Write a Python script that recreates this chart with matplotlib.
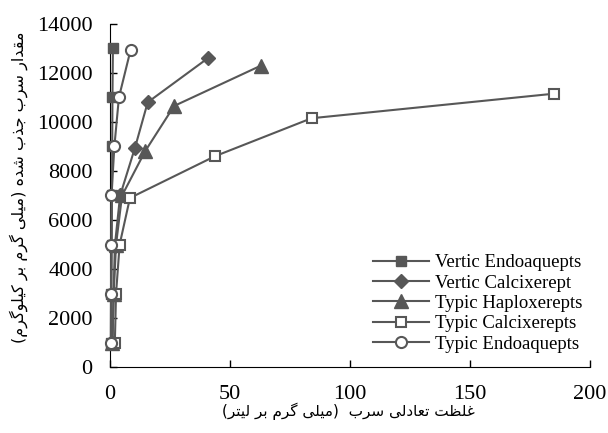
import matplotlib
matplotlib.use('Agg')
import matplotlib.pyplot as plt

# data (x: equilibrium Pb conc, y: adsorbed Pb)
series_names = ['Vertic Endoaquepts', 'Vertic Calcixerept', 'Typic Haploxerepts',
                'Typic Calcixerepts', 'Typic Endoaquepts']

vertic_endo_x = [0.5, 0.6, 0.7, 0.8, 0.9, 1.0, 1.2]
vertic_endo_y = [1000, 3000, 5000, 7000, 9000, 11000, 13000]

vertic_calci_x = [1.0, 1.5, 2.0, 4.2, 10.4, 15.7, 40.8]
vertic_calci_y = [1000, 3000, 4950, 7000, 8950, 10800, 12600]

typic_haplo_x = [1.0, 1.5, 2.5, 5.0, 14.6, 26.7, 63.0]
typic_haplo_y = [1000, 3000, 5000, 7000, 8800, 10650, 12300]

typic_calci_x = [2.0, 2.5, 4.0, 8.3, 43.7, 84.0, 185.0]
typic_calci_y = [1000, 3000, 5000, 6900, 8600, 10150, 11150]

typic_endo_x = [0.3, 0.4, 0.5, 0.6, 1.8, 3.7, 8.6]
typic_endo_y = [1000, 3000, 5000, 7000, 9000, 11000, 12950]

x_ticks = [0, 50, 100, 150, 200]
y_ticks = [0, 2000, 4000, 6000, 8000, 10000, 12000, 14000]

x_label = 'غلظت تعادلی سرب  (میلی گرم بر لیتر)'
y_label = 'مقدار سرب جذب شده (میلی گرم بر کیلوگرم)'

# matplotlib has no arabic shaping, so do it by hand
# (isolated, final, initial, medial)
FORMS = {
    'ا': ('\ufe8d', '\ufe8e', None, None),
    'ب': ('\ufe8f', '\ufe90', '\ufe91', '\ufe92'),
    'ت': ('\ufe95', '\ufe96', '\ufe97', '\ufe98'),
    'ج': ('\ufe9d', '\ufe9e', '\ufe9f', '\ufea0'),
    'د': ('\ufea9', '\ufeaa', None, None),
    'ذ': ('\ufeab', '\ufeac', None, None),
    'ر': ('\ufead', '\ufeae', None, None),
    'س': ('\ufeb1', '\ufeb2', '\ufeb3', '\ufeb4'),
    'ش': ('\ufeb5', '\ufeb6', '\ufeb7', '\ufeb8'),
    'ظ': ('\ufec5', '\ufec6', '\ufec7', '\ufec8'),
    'ع': ('\ufec9', '\ufeca', '\ufecb', '\ufecc'),
    'غ': ('\ufecd', '\ufece', '\ufecf', '\ufed0'),
    'ق': ('\ufed5', '\ufed6', '\ufed7', '\ufed8'),
    'ل': ('\ufedd', '\ufede', '\ufedf', '\ufee0'),
    'م': ('\ufee1', '\ufee2', '\ufee3', '\ufee4'),
    'ه': ('\ufee9', '\ufeea', '\ufeeb', '\ufeec'),
    'و': ('\ufeed', '\ufeee', None, None),
    'ی': ('\ufbfc', '\ufbfd', '\ufbfe', '\ufbff'),
    'ک': ('\ufb8e', '\ufb8f', '\ufb90', '\ufb91'),
    'گ': ('\ufb92', '\ufb93', '\ufb94', '\ufb95'),
}


def shape(text):
    out = []
    for i, ch in enumerate(text):
        if ch not in FORMS:
            out.append(ch)
            continue
        prev = text[i - 1] if i > 0 else ''
        nxt = text[i + 1] if i + 1 < len(text) else ''
        join_prev = prev in FORMS and FORMS[prev][2] is not None
        join_next = FORMS[ch][2] is not None and nxt in FORMS
        iso, fin, ini, med = FORMS[ch]
        if join_prev and join_next:
            out.append(med)
        elif join_prev:
            out.append(fin)
        elif join_next:
            out.append(ini)
        else:
            out.append(iso)
    vis = ''.join(reversed(out))
    return vis.translate(str.maketrans('()', ')('))


gray = '#575757'
serif = 'Liberation Serif'

fig = plt.figure(figsize=(6.08, 4.33), dpi=100)
ax = fig.add_axes([0.181, 0.152, 0.789, 0.793])

common = dict(color=gray, lw=1.5, clip_on=False, zorder=3)
ax.plot(vertic_endo_x, vertic_endo_y, marker='s', ms=7,
        mfc=gray, mec=gray, label=series_names[0], **common)
ax.plot(vertic_calci_x, vertic_calci_y, marker='D', ms=7.5,
        mfc=gray, mec=gray, label=series_names[1], **common)
ax.plot(typic_haplo_x, typic_haplo_y, marker='^', ms=9.5,
        mfc=gray, mec=gray, label=series_names[2], **common)
ax.plot(typic_calci_x, typic_calci_y, marker='s', ms=7,
        mfc='white', mec=gray, mew=1.5, label=series_names[3], **common)
ax.plot(typic_endo_x, typic_endo_y, marker='o', ms=8,
        mfc='white', mec=gray, mew=1.5, label=series_names[4], **common)

ax.set_xlim(0, 200)
ax.set_ylim(0, 14000)
ax.set_xticks(x_ticks)
ax.set_yticks(y_ticks)
ax.spines['top'].set_visible(False)
ax.spines['right'].set_visible(False)
ax.tick_params(direction='in', length=5, width=1, labelsize=16)
ax.tick_params(axis='y', pad=12.5)
ax.tick_params(axis='x', pad=13)
for lab in ax.get_xticklabels() + ax.get_yticklabels():
    lab.set_family(serif)

leg = ax.legend(loc='lower right', bbox_to_anchor=(1.008, 0.01), frameon=False,
                prop={'family': serif, 'size': 13.5}, handlelength=3.0,
                handletextpad=0.3, labelspacing=0.17, borderaxespad=0.2)

fig.text(0.573, 0.05, shape(x_label), ha='center', va='center',
         family=['DejaVu Sans'], fontsize=11)
fig.text(0.03, 0.568, shape(y_label), ha='center', va='center', rotation=90,
         family=['DejaVu Sans'], fontsize=11.5)

fig.savefig('out.png', dpi=100)
